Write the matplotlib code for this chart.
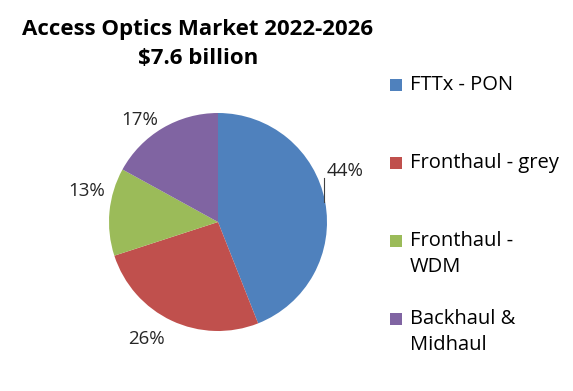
import matplotlib
matplotlib.use("Agg")
import matplotlib.pyplot as plt
import numpy as np
from matplotlib.patches import Rectangle

categories = ["FTTx - PON", "Fronthaul - grey", "Fronthaul -\nWDM", "Backhaul &\nMidhaul"]
shares = [44, 26, 13, 17]
colors = ["#4F81BD", "#C0504D", "#9BBB59", "#8064A2"]
title_lines = ["Access Optics Market 2022-2026", "$7.6 billion"]

plt.rcParams['font.family'] = ['Open Sans', 'DejaVu Sans']

W, H = 573, 391
fig = plt.figure(figsize=(W/100, H/100), dpi=100)

cx, cy, r = 218, 222, 109
ax = fig.add_axes([(cx - r)/W, (H - cy - r)/H, 2*r/W, 2*r/H])
ax.set_xlim(-1, 1); ax.set_ylim(-1, 1)
ax.set_aspect('equal'); ax.axis('off')

wedges, _ = ax.pie(shares, colors=colors, startangle=90, counterclock=False,
                   radius=1, wedgeprops=dict(linewidth=0))
ax.set_xlim(-1, 1); ax.set_ylim(-1, 1)

# percentage labels, placed near each wedge's middle angle
label_dist = [1.26, 1.26, 1.24, 1.18]
angle_shift = [11.0, -6.0, -8.0, 7.0]
for w, s, d, da in zip(wedges, shares, label_dist, angle_shift):
    mid = np.deg2rad((w.theta1 + w.theta2) / 2 + da)
    ax.text(d*np.cos(mid), d*np.sin(mid), f"{s}%", ha='center', va='center',
            fontsize=13.5, color='#262626', clip_on=False)

# leader line for the first label
ax.plot([0.972, 0.972], [0.40, 0.18], color='#404040', lw=0.8, clip_on=False)

# title
fig.text(198/W, 1 - 30/H, title_lines[0], ha='center', va='center',
         fontsize=16, fontweight='bold', color='black')
fig.text(198/W, 1 - 59/H, title_lines[1], ha='center', va='center',
         fontsize=16, fontweight='bold', color='black')

# legend (manual)
y0, dy = 85, 78
for i, (lab, col) in enumerate(zip(categories, colors)):
    y = y0 + i*dy
    fig.patches.append(Rectangle((390/W, 1 - (y + 6)/H), 12/W, 12/H,
                                 transform=fig.transFigure, facecolor=col,
                                 edgecolor='none'))
    fig.text(410/W, 1 - (y - 10)/H, lab, ha='left', va='top', fontsize=14.5,
             color='black', linespacing=1.4)

fig.savefig("out.png", dpi=100, facecolor='white')
